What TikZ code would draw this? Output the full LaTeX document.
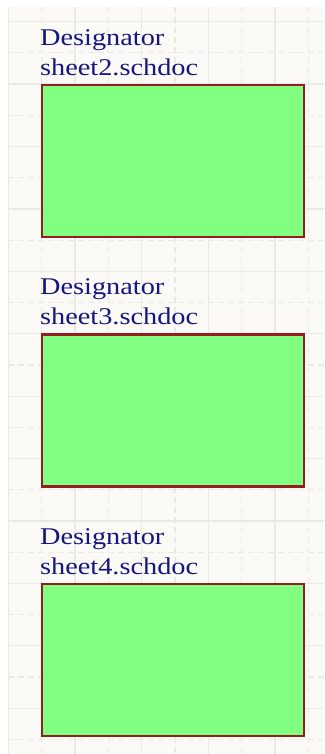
\documentclass[tikz,border=0pt]{standalone}
\usepackage{fontspec}
\setmainfont{Liberation Serif}
\usetikzlibrary{positioning}
\definecolor{paperc}{HTML}{FCFAF6}
\definecolor{gridc}{HTML}{EBE9E3}
\definecolor{sheetc}{HTML}{80FF80}
\definecolor{edgec}{HTML}{981C1C}
\definecolor{navyc}{HTML}{16167F}
\newcommand{\sheetsym}[3]{%
  \node[sheetbox] (#1) at #2 {};
  \node[sheetlabel] (#1file)
        at ([shift={(-1,-8.5)}]#1.north west) {\scalebox{1.18}[1]{#3}};
  \node[sheetlabel] (#1des)
        at ([yshift=30pt]#1file.base west) {\scalebox{1.18}[1]{Designator}};
}

\begin{document}
\begin{tikzpicture}[x=1pt, y=-1pt,
      gridsolid/.style={gridc, line width=1.2pt},
      griddash/.style={gridc, line width=1.2pt, dash pattern=on 6pt off 4pt},
      sheetbox/.style={draw=edgec, fill=sheetc, line width=2.2pt,
        minimum width=262pt, minimum height=152pt, inner sep=0pt},
      sheetlabel/.style={navyc, anchor=base west, inner sep=0pt,
        font=\fontsize{24}{30}\selectfont}]
    \useasboundingbox[fill=white] (0,0) rectangle (324,754);
    \fill[paperc] (8,7) rectangle (324,754);
    % sheet grid
    \foreach \k in {0,2,...,22} \draw[gridsolid]
      (8,{21.7+\k*31.2}) -- (324,{21.7+\k*31.2});
    \foreach \k in {1,3,...,23} \draw[griddash]
      (8,{21.7+\k*31.2}) -- (324,{21.7+\k*31.2});
    \foreach \k in {0,2,...,8} \draw[gridsolid]
      ({8.3+\k*33.33},7) -- ({8.3+\k*33.33},754);
    \foreach \k in {1,3,...,9} \draw[griddash]
      ({8.3+\k*33.33},7) -- ({8.3+\k*33.33},754);
    % sheet symbols
    \sheetsym{s2}{(173,161)}{sheet2.schdoc}
    \sheetsym{s3}{(173,410.5)}{sheet3.schdoc}
    \sheetsym{s4}{(173,660)}{sheet4.schdoc}
  \end{tikzpicture}
\end{document}
